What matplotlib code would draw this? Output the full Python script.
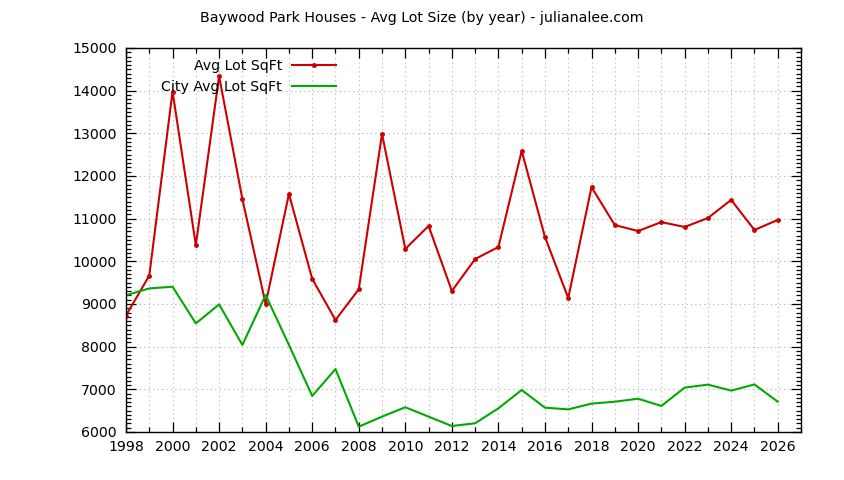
import matplotlib
matplotlib.use("Agg")
import matplotlib.pyplot as plt
from matplotlib.ticker import MultipleLocator

# data
years = list(range(1998, 2027))
avg_lot = [8730, 9665, 13980, 10380, 14340, 11460, 9000, 11580, 9590, 8625,
           9345, 12985, 10290, 10830, 9305, 10055, 10335, 12590, 10570, 9140,
           11740, 10850, 10710, 10920, 10805, 11015, 11440, 10735, 10970]
city_avg_lot = [9205, 9365, 9405, 8545, 8990, 8040, 9210, 8040, 6845, 7475,
                6125, 6360, 6580, 6360, 6140, 6205, 6555, 6985, 6570, 6530,
                6665, 6710, 6780, 6610, 7040, 7110, 6970, 7115, 6710]

title = "Baywood Park Houses - Avg Lot Size (by year) - julianalee.com"

plt.rcParams['font.family'] = ['DejaVu Sans']
plt.rcParams['font.size'] = 10.2

fig = plt.figure(figsize=(8.44, 4.8), dpi=100)
ax = fig.add_axes([126 / 844, 48 / 480, 675 / 844, 384 / 480])

ax.plot(years, avg_lot, color='#cc0000', lw=1.5, marker='o', ms=2.5,
        label='Avg Lot SqFt')
ax.plot(years, city_avg_lot, color='#00aa00', lw=1.5, label='City Avg Lot SqFt')

ax.set_xlim(1998, 2027)
ax.set_ylim(6000, 15000)
ax.xaxis.set_major_locator(MultipleLocator(2))
ax.xaxis.set_minor_locator(MultipleLocator(1))
ax.yaxis.set_major_locator(MultipleLocator(1000))
ax.yaxis.set_minor_locator(MultipleLocator(100))
ax.tick_params(which='both', direction='in', top=True, right=True, width=0.9)
ax.tick_params(which='major', length=7, pad=6)
ax.tick_params(which='minor', length=3.5)
ax.tick_params(axis='y', which='major', pad=6.5)

ax.grid(True, which='major', color='#b0b0b0', ls=(0, (1, 3)), lw=0.8)
ax.grid(True, which='minor', axis='x', color='#b0b0b0', ls=(0, (1, 3)), lw=0.8)
ax.set_axisbelow(True)
for s in ax.spines.values():
    s.set_linewidth(1)

fig.text(0.5, 1 - 18 / 480, title, ha='center', va='center')

ax.legend(loc='upper right', bbox_to_anchor=(336 / 844, 1 - 59 / 480),
          bbox_transform=fig.transFigure, frameon=False, markerfirst=False,
          handlelength=3.1, handletextpad=0.7, labelspacing=0.5,
          borderpad=0, borderaxespad=0)

fig.savefig('out.png', dpi=100)
